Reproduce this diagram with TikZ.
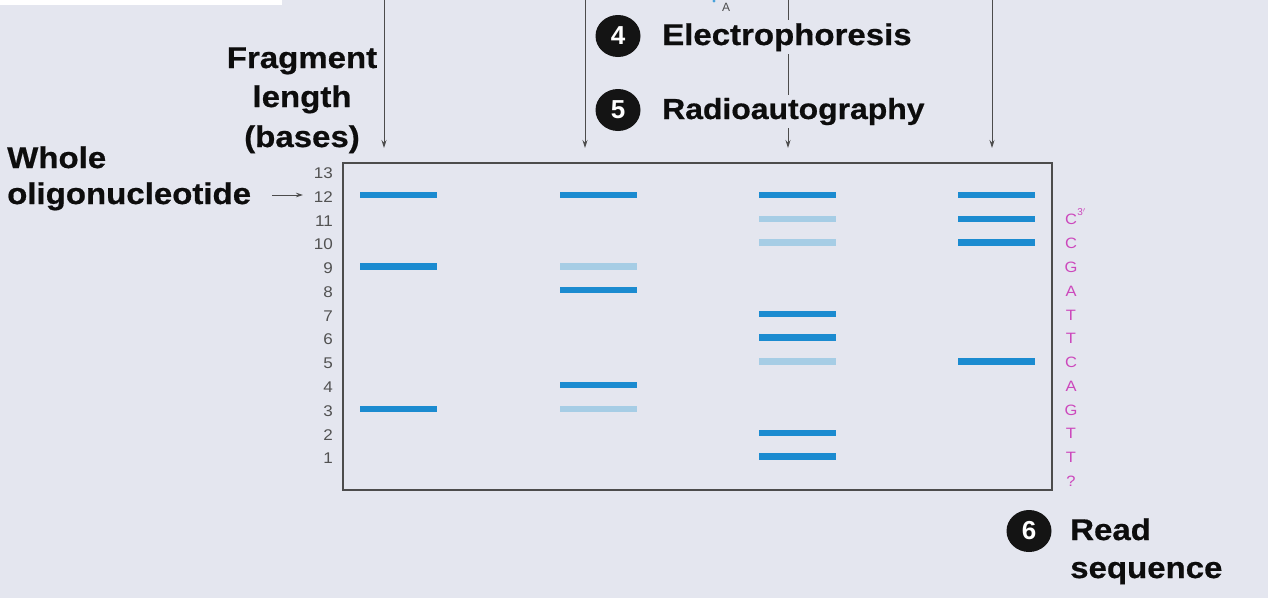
\documentclass[tikz,border=0pt]{standalone}
\usepackage{fontspec}
\setmainfont{Liberation Sans}
\newfontfamily\widefont[FakeStretch=1.1, BoldFeatures={FakeBold=0.6}]{Liberation Sans}
\newfontfamily\numfont[FakeStretch=1.1]{Liberation Sans}
\usetikzlibrary{arrows.meta,calc,shapes.geometric}
\definecolor{bg}{HTML}{E4E6EF}
\definecolor{dark}{HTML}{1B8BD0}
\definecolor{light}{HTML}{A6CDE5}
\definecolor{seq}{HTML}{CC48BC}
\begin{document}
\begin{tikzpicture}[x=1pt,y=-1pt,
  lbl/.style={font=\widefont\fontsize{30}{36}\selectfont\bfseries, inner sep=0pt, text=black!95},
  num/.style={font=\numfont\fontsize{15.5}{16}\selectfont, text=black!68, anchor=east, inner sep=0pt},
  sq/.style={font=\numfont\fontsize{15}{16}\selectfont, text=seq, inner sep=0pt},
  stepnum/.style={ellipse, fill=black!92, text=white, minimum width=45pt, minimum height=42pt, inner sep=0pt, font=\fontsize{26}{28}\selectfont\bfseries},
  dband/.style={line width=6.5pt, draw=dark},
  lband/.style={line width=6.5pt, draw=light},
  arr/.style={draw=black!70, line width=0.9pt, -{Stealth[length=8pt,width=5pt]}}]
\fill[bg] (0,0) rectangle (1268,598);
\useasboundingbox (0,0) rectangle (1268,598);
\fill[white] (0,0) rectangle (282,5);
% lane arrows
\foreach \i/\x in {1/384,2/585,3/788,4/992}{
  \coordinate (t\i) at (\x,0);
  \coordinate (b\i) at (\x,148);
  \draw[arr] (t\i) -- (b\i);
}
% step labels
\node[stepnum] (s4) at (618,36) {4};
\node[lbl, anchor=base west, fill=bg, inner ysep=3pt] (e4) at (662,45) {Electrophoresis};
\node[stepnum] (s5) at (618,110) {5};
\node[lbl, font=\widefont\fontsize{29}{36}\selectfont\bfseries, anchor=base west, fill=bg, inner ysep=3pt] (e5) at (662,119) {Radioautography};
\node[font=\fontsize{12}{12}\selectfont, text=black!70, inner sep=0pt] (aa) at (726,7) {A};
\fill[dark!80] (714,1) circle (1.6);
% fragment length
\node[lbl, anchor=base] (fl1) at (302,68) {Fragment};
\node[lbl, anchor=base] (fl2) at (302,107) {length};
\node[lbl, anchor=base] (fl3) at (302,147) {(bases)};
% gel box
\draw[black!70, line width=1.1pt] (343,163) rectangle (1052,490);
% row numbers
\foreach \n in {1,...,13}{
  \node[num] (n\n) at (333,{458.5-(\n-1)*23.78}) {\n};
}
% whole oligonucleotide
\node[lbl, anchor=base west] (wo1) at (7,168) {Whole};
\node[lbl, anchor=base west] (wo2) at (7,204) {oligonucleotide};
\coordinate (wa) at (272,195);
\draw[arr, line width=0.8pt, -{Stealth[length=7pt,width=4.5pt]}] (wa) -- (303,195);
% bands: lane x-start, row
\foreach \x/\r/\s in {360/12/dband,360/9/dband,360/3/dband,
  560/12/dband,560/9/lband,560/8/dband,560/4/dband,560/3/lband,
  759/12/dband,759/11/lband,759/10/lband,759/7/dband,759/6/dband,759/5/lband,759/2/dband,759/1/dband,
  958/12/dband,958/11/dband,958/10/dband,958/5/dband}{
  \draw[\s] (\x,{195+(12-\r)*23.78}) -- ++(77,0);
}
% sequence
\foreach \r/\c in {10/C,9/G,8/A,7/T,6/T,5/C,4/A,3/G,2/T,1/T,0/?}{
  \node[sq] (q\r) at (1071,{196+(12-\r)*23.78}) {\c};
}
\node[sq] (c3) at (1071,{196+23.78}) {C};
\node[sq, anchor=south west, font=\fontsize{10}{10}\selectfont] (p3) at ([yshift=-2pt]c3.north east) {3$'$};
% read sequence
\node[stepnum] (s6) at (1029,531) {6};
\node[lbl, anchor=base west] (rs1) at (1070,540) {Read};
\node[lbl, anchor=base west] (rs2) at (1070,578) {sequence};
\end{tikzpicture}
\end{document}
